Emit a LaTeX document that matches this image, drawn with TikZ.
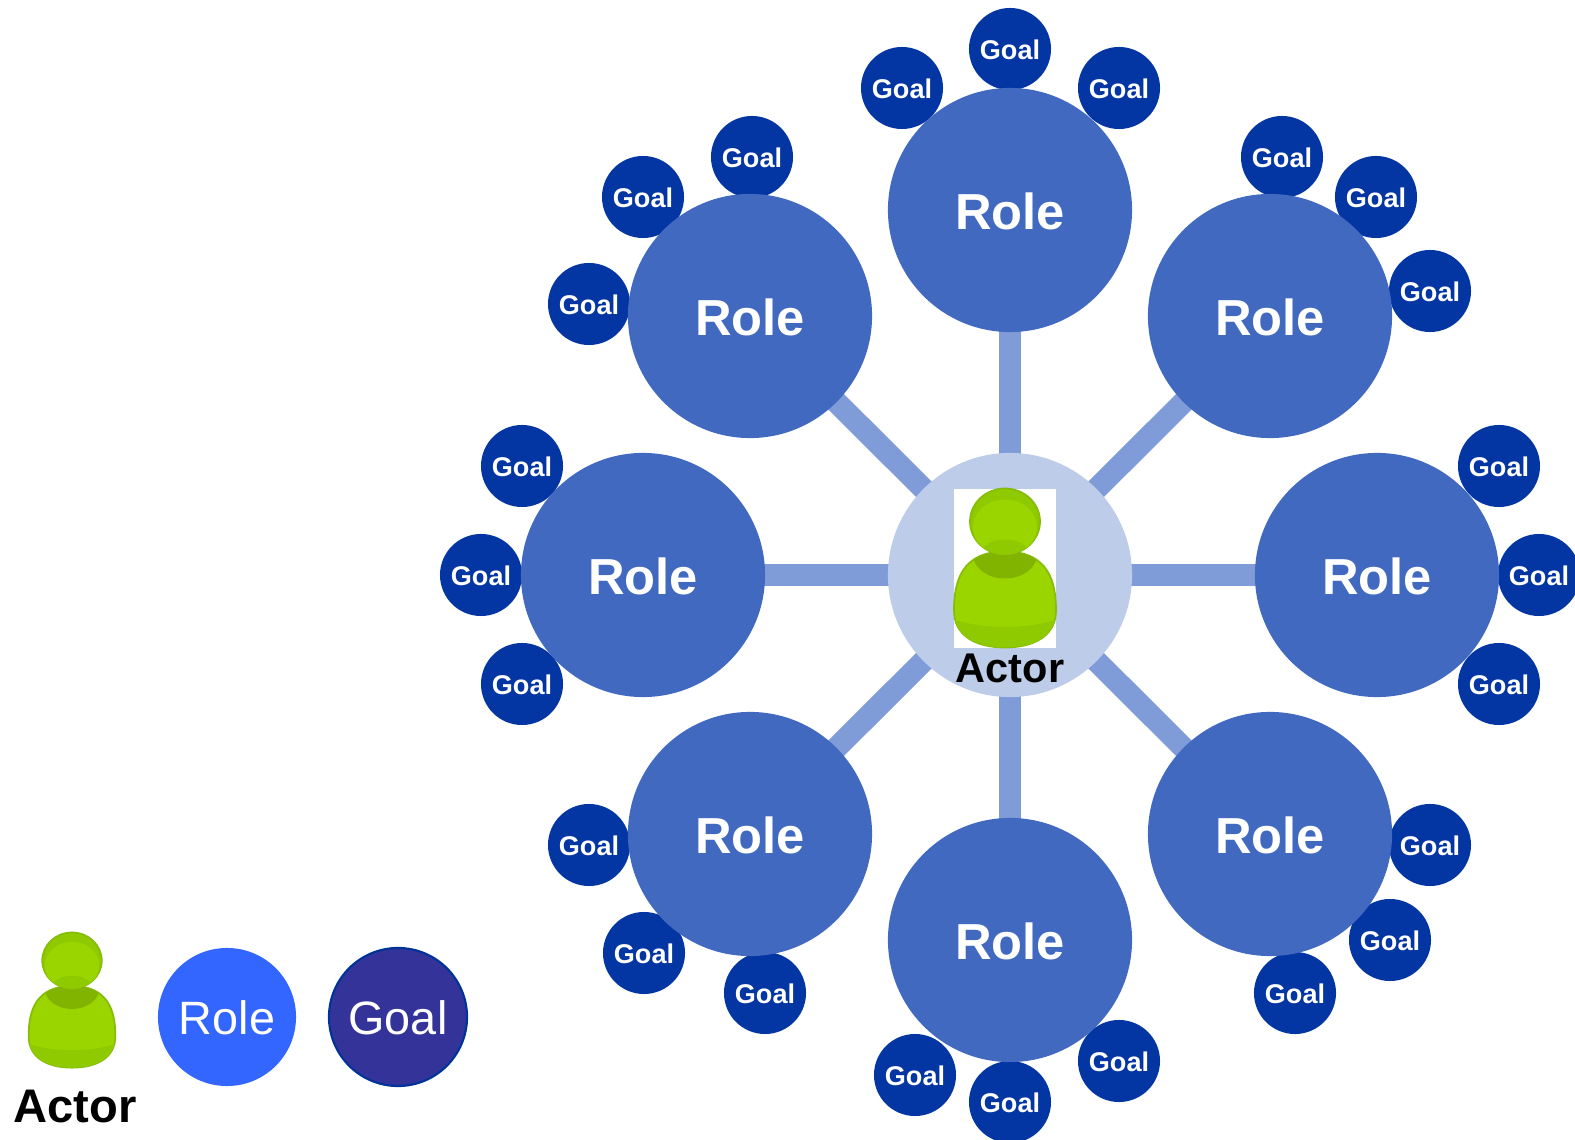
\documentclass[tikz,border=0pt]{standalone}
\usepackage{fontspec}
\setmainfont{Liberation Sans}
\usetikzlibrary{backgrounds}
\definecolor{rolefill}{HTML}{4169C0}
\definecolor{goalfill}{HTML}{0336A2}
\definecolor{hubfill}{HTML}{BCCCE9}
\definecolor{spokecol}{HTML}{7F9CD9}
\definecolor{keyrole}{HTML}{3366FF}
\definecolor{keygoal}{HTML}{333399}
\definecolor{keyedge}{HTML}{003399}
\definecolor{limeedge}{HTML}{86BC0A}
\definecolor{limemain}{HTML}{9AD500}
\definecolor{limedark}{HTML}{80B400}
\definecolor{limeband}{HTML}{8FCA00}
\tikzset{
	rolenode/.style={circle,fill=rolefill,text=white,inner sep=0pt,minimum size=2.44cm,text height=11.5pt,font=\fontsize{14.4}{16}\selectfont\bfseries},
	goalnode/.style={circle,fill=goalfill,text=white,inner sep=0pt,minimum size=.82cm,text height=6.2pt,font=\fontsize{7.7}{9}\selectfont\bfseries},
	keynode/.style={circle,text=white,inner sep=0pt,minimum size=1.38cm,text height=10.2pt,font=\fontsize{13.3}{15}\selectfont},
	spoke/.style={draw=spokecol,line width=.22cm,shorten >=-3pt,shorten <=-3pt},
	actorfig/.pic={
		% body
		\path[fill=limemain,draw=limeedge,line width=.5pt,save path=\bodypath]
			(0,-17) .. controls (-44,-17) and (-51,14) .. (-51,42)
			.. controls (-51,68) and (-28,79) .. (0,79)
			.. controls (28,79) and (51,68) .. (51,42)
			.. controls (51,14) and (44,-17) .. (0,-17) -- cycle;
		\begin{scope}
			\clip[use path=\bodypath];
			\fill[limeband] (-60,48) .. controls (-25,62) and (25,62) .. (60,48) -- (60,90) -- (-60,90) -- cycle;
			\fill[limedark] (0,-14) ellipse [x radius=32,y radius=24];
		\end{scope}
		% head
		\path[fill=limeband,draw=limeedge,line width=.5pt,save path=\headpath] (0,-47) ellipse [x radius=35,y radius=33];
		\begin{scope}
			\clip[use path=\headpath];
			\fill[limemain] (0,-41) ellipse [x radius=32,y radius=28];
			\fill[limeband] (0,-14) ellipse [x radius=25,y radius=15];
		\end{scope}
	}
}
\begin{document}
\begin{tikzpicture}[x=.01cm,y=-.01cm,line join=round]
	\useasboundingbox (0,0) rectangle (1575,1140);
	% goals go under the roles
	\foreach \n/\x/\y in {1/902/88,2/1010/49,3/1119/88,
		4/643/197,5/752/157,6/589/304,
		7/1282/157,8/1376/197,9/1430/291,
		10/1499/466,11/1539/575,12/1499/684,
		13/1430/845,14/1390/940,15/1295/993,
		16/1119/1061,17/1010/1102,18/915/1075,
		19/589/845,20/644/953,21/765/993,
		22/522/466,23/481/575,24/522/684}{
		\node[goalnode] (goal\n) at (\x,\y) {Goal};}
	\node[circle,fill=hubfill,inner sep=0pt,minimum size=2.44cm] (hub) at (1010,575) {};
	\foreach \n/\x/\y in {1/1010/210,2/1270/316,3/1377/575,4/1270/834,5/1010/940,6/750/834,7/643/575,8/750/316}{
		\node[rolenode] (role\n) at (\x,\y) {Role};
		\begin{scope}[on background layer]
			\draw[spoke] (hub)--(role\n);
		\end{scope}}
	% actor in the middle
	\fill[white] (954,489) rectangle (1056,648);
	\pic at (1005,568.5) {actorfig};
	\node[font=\fontsize{11.8}{14}\selectfont\bfseries,inner sep=0pt] (actorname) at (1010,668) {Actor};
	% legend
	\pic[scale=.85] at (72,1000.5) {actorfig};
	\node[font=\fontsize{13.4}{16}\selectfont\bfseries,inner sep=0pt] (keyactor) at (75,1107) {Actor};
	\node[keynode,fill=keyrole] (keyrole) at (227,1017) {Role};
	\node[keynode,fill=keygoal,draw=keyedge,line width=.6pt] (keygoal) at (398,1017) {Goal};
\end{tikzpicture}
\end{document}
